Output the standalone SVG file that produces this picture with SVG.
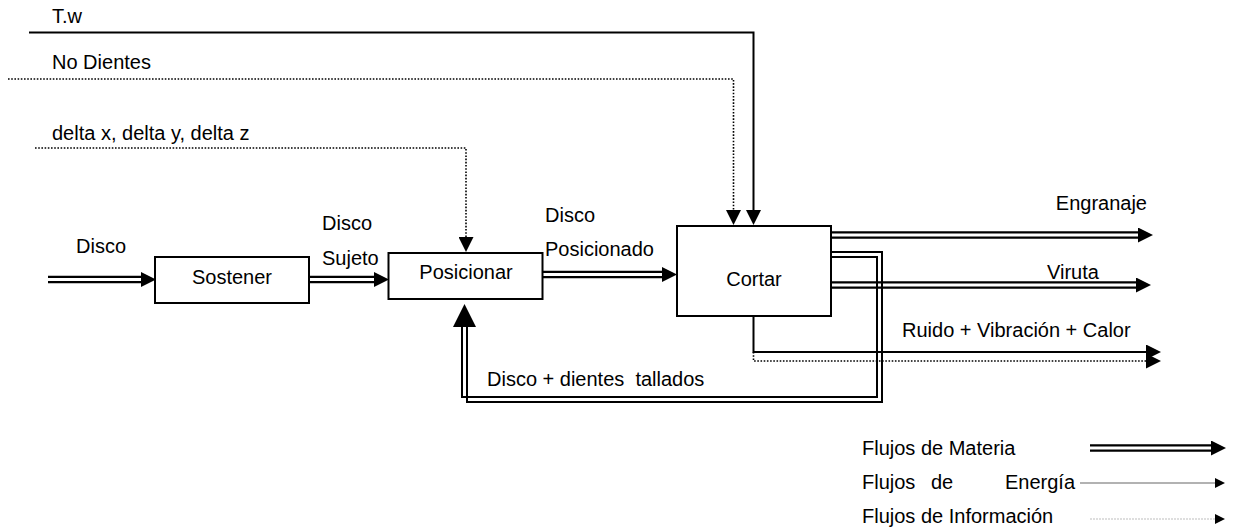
<svg xmlns="http://www.w3.org/2000/svg" width="1236" height="531" viewBox="0 0 1236 531">
<style>
  text { font-family: "Liberation Sans", Arial, sans-serif; font-size: 20px; fill: #000; }
  .mid { text-anchor: middle; }
  .end { text-anchor: end; }
  .box { fill: #fff; stroke: #000; stroke-width: 2; }
  .mo { fill: none; stroke: #000; stroke-width: 7.5; }
  .mi { fill: none; stroke: #fff; stroke-width: 3; }
  .en { fill: none; stroke: #000; stroke-width: 2; }
  .inf { fill: none; stroke: #000; stroke-width: 1.6; stroke-dasharray: 1.6 1.6; }
  .len { fill: none; stroke: #999; stroke-width: 1.5; }
  .linf { fill: none; stroke: #d4d4d4; stroke-width: 1.5; stroke-dasharray: 2 1; }
</style>
<defs>
  <marker id="ah" markerUnits="userSpaceOnUse" viewBox="0 0 15 15" refX="1" refY="7.5" markerWidth="15" markerHeight="15" orient="auto">
    <path d="M0,0 L15,7.5 L0,15 z" fill="#000"/>
  </marker>
  <marker id="ahs" markerUnits="userSpaceOnUse" viewBox="0 0 10 10" refX="1" refY="5" markerWidth="10" markerHeight="10" orient="auto">
    <path d="M0,0 L10,5 L0,10 z" fill="#000"/>
  </marker>
</defs>
<rect width="1236" height="531" fill="#fff"/>

<g id="connectors">
  <!-- information / energy inputs -->
  <path class="en" d="M29,32.5 H753.5 V211" marker-end="url(#ah)"/>
  <path class="inf" d="M8,79 H733.5 V211" marker-end="url(#ah)"/>
  <path class="inf" d="M35,148 H466 V238" marker-end="url(#ah)"/>
  <!-- material flows -->
  <path class="mo" d="M48,279.5 H142"/>
  <path class="mi" d="M48,279.5 H142" marker-end="url(#ah)"/>
  <path class="mo" d="M309,279.5 H375"/>
  <path class="mi" d="M309,279.5 H375" marker-end="url(#ah)"/>
  <path class="mo" d="M543,274.5 H663"/>
  <path class="mi" d="M543,274.5 H663" marker-end="url(#ah)"/>
  <path class="mo" d="M831,235 H1139"/>
  <path class="mi" d="M831,235 H1139" marker-end="url(#ah)"/>
  <path class="mo" d="M831,285 H1137"/>
  <path class="mi" d="M831,285 H1137" marker-end="url(#ah)"/>
  <!-- feedback loop -->
  <path class="en" d="M831,252 H882 V402 H467 V326"/>
  <path class="en" d="M831,257 H877 V397 H462 V326"/>
  <polygon points="464.5,304 476,327 453,327" fill="#000"/>
  <!-- energy / info outputs -->
  <path class="en" d="M753.5,316 V352 H1147" marker-end="url(#ah)"/>
  <path class="inf" d="M753.5,352 V361 H1147" marker-end="url(#ah)"/>
</g>

<g id="node-sostener">
  <rect class="box" x="155" y="257" width="154" height="46"/>
  <text class="mid" x="232" y="284">Sostener</text>
</g>
<g id="node-posicionar">
  <rect class="box" x="388.5" y="253" width="154" height="46"/>
  <text class="mid" x="466" y="279">Posicionar</text>
</g>
<g id="node-cortar">
  <rect class="box" x="677" y="226" width="154" height="90"/>
  <text class="mid" x="754" y="286">Cortar</text>
</g>

<g id="labels">
  <text x="52" y="23">T.w</text>
  <text x="52" y="69">No Dientes</text>
  <text x="52" y="140">delta x, delta y, delta z</text>
  <text x="76" y="253">Disco</text>
  <text x="322" y="230">Disco</text>
  <text x="322" y="265">Sujeto</text>
  <text x="545" y="222">Disco</text>
  <text x="545" y="256">Posicionado</text>
  <text class="end" x="1147" y="210">Engranaje</text>
  <text x="1047" y="279">Viruta</text>
  <text x="902" y="337">Ruido + Vibración + Calor</text>
  <text x="487" y="386" xml:space="preserve">Disco + dientes  tallados</text>
</g>

<g id="legend">
  <text x="862" y="455">Flujos de Materia</text>
  <path class="mo" d="M1090,448 H1212"/>
  <path class="mi" d="M1090,448 H1212" marker-end="url(#ah)"/>
  <text y="489"><tspan x="862">Flujos</tspan><tspan x="931">de</tspan><tspan x="1005">Energía</tspan></text>
  <path class="len" d="M1080,483 H1216" marker-end="url(#ahs)"/>
  <text x="862" y="523">Flujos de Información</text>
  <path class="linf" d="M1090,519 H1216" marker-end="url(#ahs)"/>
</g>
</svg>
